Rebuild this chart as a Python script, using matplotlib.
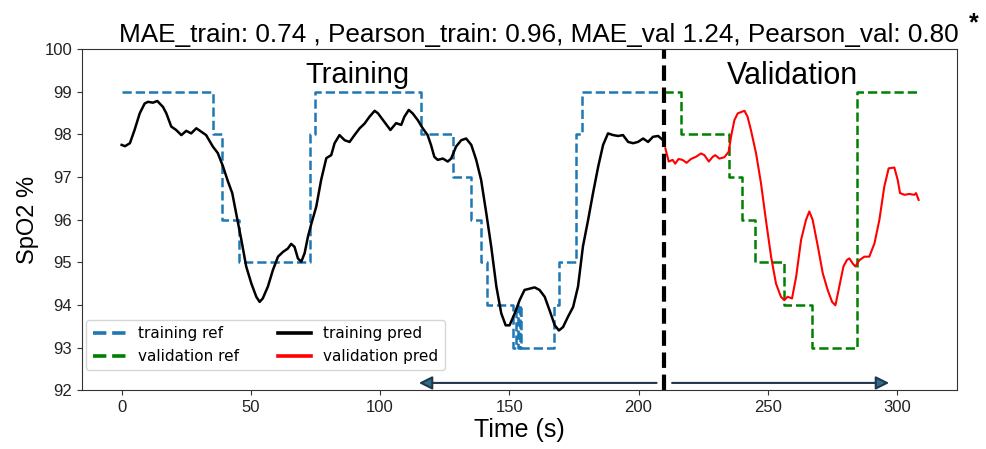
import numpy as np
import matplotlib.pyplot as plt

# reference (step) values: breakpoints in seconds, SpO2 %
train_ref_t = [0, 35.3, 39, 45.6, 72.7, 75, 116, 128.4, 135.2, 139, 141.5, 151.5, 152.5,
               153.3, 154, 154.7, 167.4, 169.4, 175.8, 178.3, 210]
train_ref_v = [99, 98, 96, 95, 98, 99, 98, 97, 96, 95, 94, 93, 94,
               93, 94, 93, 94, 95, 98, 99, 99]

val_ref_t = [210, 216.4, 235.1, 240, 245.2, 256.4, 267.1, 284.5, 308]
val_ref_v = [99, 98, 97, 96, 95, 94, 93, 99, 99]

# predictions
train_pred_t = [0, 1.3, 3.2, 5.0, 7, 8.9, 10.2, 12.1, 13.8, 16, 17.3, 19.2, 21.1, 23.1, 25,
                26.9, 28.9, 30.8, 32.7, 35.3, 37.2, 39.2, 41.1, 42.8, 44.3, 46.3, 48.2,
                50.2, 52.1, 53.4, 54.6, 56.6, 58.5, 60.5, 62.4, 64.3, 65.6, 66.9, 68.2,
                69.5, 70.8, 72.1, 73.4, 75.3, 77.2, 79.2, 81.1, 82.4, 84.3, 86.3, 88.2,
                90.1, 92.1, 94.0, 95.9, 97.9, 99.2, 101.4, 104.0, 106.2, 108.2, 109.4,
                111.1, 112.6, 114.6, 116.5, 118.4, 119.7, 121, 122.3, 124.3, 126.2, 127.5,
                129.4, 131.4, 133.3, 135.3, 137.2, 139.1, 141.1, 143, 145, 146.9, 148.6,
                150.1, 152.1, 154, 155.9, 157.9, 159.8, 161.7, 163.7, 165.6, 167.6, 169.2,
                170.8, 172.7, 174.7, 176.6, 178.5, 180.5, 182.4, 184.4, 186.3, 188.2,
                190.2, 192.1, 194.0, 196, 197.9, 199.8, 201.8, 203.7, 205.6, 207.6, 209.5]
train_pred_v = [97.75, 97.72, 97.79, 98.1, 98.49, 98.72, 98.76, 98.74, 98.78, 98.64, 98.49,
                98.18, 98.1, 97.98, 98.08, 98.02, 98.14, 98.06, 97.98, 97.71, 97.56, 97.25,
                96.9, 96.62, 96.15, 95.53, 94.9, 94.5, 94.19, 94.07, 94.15, 94.43, 94.81,
                95.13, 95.24, 95.32, 95.43, 95.36, 95.09, 95.01, 95.21, 95.6, 95.9, 96.3,
                96.93, 97.44, 97.51, 97.79, 97.98, 97.86, 97.82, 97.98, 98.14, 98.25,
                98.41, 98.55, 98.49, 98.31, 98.1, 98.26, 98.22, 98.41, 98.57, 98.49, 98.33,
                98.14, 97.98, 97.75, 97.47, 97.4, 97.43, 97.36, 97.43, 97.71, 97.86, 97.9,
                97.75, 97.4, 96.93, 96.15, 95.37, 94.43, 93.8, 93.52, 93.52, 93.8, 94.11,
                94.35, 94.38, 94.41, 94.35, 94.19, 93.87, 93.52, 93.4, 93.48, 93.72, 93.95,
                94.43, 95.37, 95.99, 96.62, 97.24, 97.75, 98.02, 97.98, 97.96, 97.98, 97.82,
                97.79, 97.82, 97.9, 97.82, 97.94, 97.96, 97.86]

val_pred_t = [210.4, 211.7, 213.2, 214.2, 215.5, 217, 218.6, 220.3, 222.2, 224.2, 225.5,
              227.2, 228.7, 229.7, 231.3, 233.2, 234.9, 235.8, 237.1, 238.4, 241, 242.2,
              243.5, 245.5, 247.4, 249.3, 251.3, 253.2, 255.1, 256.4, 257.7, 259.4, 261,
              262.9, 264.8, 266.1, 267.4, 269.4, 271.3, 273.2, 274.9, 276.2, 277.7, 279.3,
              280.6, 281.6, 282.9, 283.9, 285.5, 287.4, 289.3, 291.3, 293.2, 295.1, 296.8,
              299, 300.3, 301.2, 302.9, 304.8, 306.7, 307.4, 308.4]
val_pred_v = [97.67, 97.36, 97.4, 97.31, 97.42, 97.4, 97.33, 97.42, 97.47, 97.55, 97.51,
              97.36, 97.47, 97.51, 97.43, 97.46, 97.59, 97.94, 98.33, 98.49, 98.55, 98.41,
              98.1, 97.55, 96.85, 95.99, 95.13, 94.5, 94.19, 94.11, 94.19, 94.15, 94.66,
              95.52, 95.99, 96.19, 95.99, 95.37, 94.74, 94.35, 94.07, 93.99, 94.43, 94.9,
              95.05, 95.09, 94.97, 94.9, 95.05, 95.13, 95.13, 95.44, 95.99, 96.77, 97.2,
              97.22, 96.93, 96.62, 96.58, 96.6, 96.58, 96.62, 96.46]

split_t = 210

plt.rcParams['font.family'] = ['Liberation Sans', 'DejaVu Sans']

fig = plt.figure(figsize=(9.86, 4.49), dpi=100)
ax = fig.add_axes([0.083, 0.131, 0.888, 0.76])

ax.plot(train_ref_t, train_ref_v, '--', color='#1f77b4', lw=1.8, drawstyle='steps-post',
        label='training ref')
ax.plot(val_ref_t, val_ref_v, '--', color='green', lw=1.8, drawstyle='steps-post',
        label='validation ref')
ax.plot(train_pred_t, train_pred_v, color='black', lw=1.8, label='training pred')
ax.plot(val_pred_t, val_pred_v, color='red', lw=1.5, label='validation pred')

ax.axvline(split_t, color='black', ls='--', lw=3)

# arrows under the two sections
arrow_y = 92.17
for start, end in [(207, 115), (213, 297)]:
    ax.annotate('', xy=(end, arrow_y), xytext=(start, arrow_y),
                arrowprops=dict(arrowstyle='-|>', mutation_scale=20, lw=1.5,
                                edgecolor='#22384a', facecolor='#2e6d93',
                                shrinkA=0, shrinkB=0))

ax.text(0.315, 0.965, 'Training', transform=ax.transAxes, fontsize=21,
        ha='center', va='top')
ax.text(0.812, 0.965, 'Validation', transform=ax.transAxes, fontsize=22,
        ha='center', va='top')

ax.set_xlim(-15.4, 323.4)
ax.set_ylim(92, 100)
ax.set_xticks([0, 50, 100, 150, 200, 250, 300])
ax.set_yticks(range(92, 101))
ax.tick_params(labelsize=12, colors='#333333', labelcolor='#222222')
for s in ax.spines.values():
    s.set_color('#333333')

ax.set_xlabel('Time (s)', fontsize=18, labelpad=2)
ax.set_ylabel('SpO2 %', fontsize=17)
ax.set_title('MAE_train: 0.74 , Pearson_train: 0.96, MAE_val 1.24, Pearson_val: 0.80',
             fontsize=18.8, pad=5, x=0.522)
fig.text(0.988, 0.975, '*', fontsize=18, ha='center', va='top', fontweight='bold')

leg = ax.legend(loc='lower left', bbox_to_anchor=(0.0, 0.045), ncol=2,
                prop={'family': 'DejaVu Sans', 'size': 11}, handlelength=2.2,
                columnspacing=2.5, borderaxespad=0.3)
for h in leg.get_lines():
    h.set_linewidth(2.6)

fig.savefig('out.png', dpi=100)
